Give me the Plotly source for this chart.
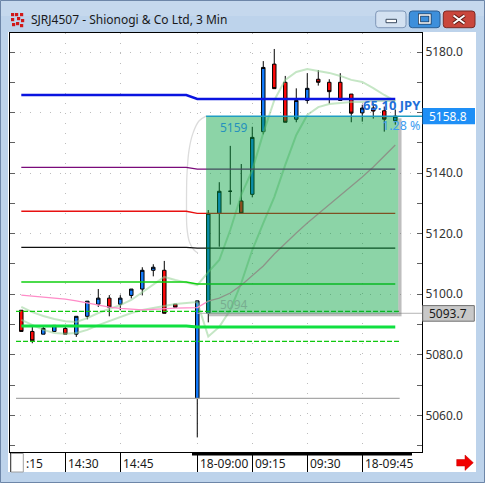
import plotly.graph_objects as go

# ---------------------------------------------------------------------------
# 3-minute bars of SJRJ4507 (Shionogi & Co Ltd).  X is a bar-slot index:
# slot 0 = 14:18 of the previous session, slot 16 = 09:00 on the 18th,
# slot 15 is the overnight break.
# ---------------------------------------------------------------------------
slots = [0, 1, 2, 3, 4, 5, 6, 7, 8, 9, 10, 11, 12, 13, 14,
         16, 17, 18, 19, 20, 21, 22, 23, 24, 25, 26, 27, 28, 29, 30, 31, 32, 33, 34]
opens = [5094.7, 5087.7, 5086.8, 5087.7, 5088.7, 5086.8, 5092.7, 5096.7, 5098.7, 5096.7,
         5099.6, 5101.7, 5107.9, 5107.9, 5096.7,
         5065.6, 5093.7, 5126.7, 5134.0, 5130.8, 5133.0, 5153.7, 5176.0, 5170.0, 5157.8,
         5164.0, 5171.0, 5170.0, 5170.0, 5166.1, 5159.9, 5161.5, 5160.6, 5157.3]
highs = [5094.7, 5089.8, 5089.7, 5089.7, 5089.7, 5092.7, 5097.7, 5101.7, 5099.7, 5099.7,
         5101.7, 5108.9, 5109.9, 5111.0, 5096.7,
         5097.8, 5127.8, 5137.0, 5149.0, 5143.0, 5155.3, 5177.0, 5181.0, 5172.1, 5168.0,
         5173.0, 5174.0, 5171.0, 5173.0, 5166.1, 5162.6, 5163.0, 5162.0, 5161.0]
lows = [5087.7, 5083.8, 5086.8, 5087.7, 5086.8, 5085.9, 5091.7, 5095.8, 5092.7, 5094.7,
        5098.6, 5099.6, 5105.9, 5093.7, 5095.7,
        5052.7, 5090.7, 5115.7, 5129.6, 5126.7, 5132.0, 5152.8, 5167.9, 5156.8, 5156.8,
        5163.0, 5168.9, 5163.0, 5164.0, 5156.8, 5157.0, 5158.0, 5153.7, 5156.0]
closes = [5087.7, 5084.6, 5088.7, 5089.7, 5086.8, 5092.7, 5097.7, 5098.7, 5095.7, 5098.7,
          5101.7, 5107.9, 5108.9, 5093.7, 5095.7,
          5097.8, 5126.7, 5134.0, 5134.0, 5126.7, 5151.8, 5174.9, 5167.9, 5156.8, 5164.0,
          5168.0, 5170.0, 5166.9, 5164.0, 5159.8, 5161.5, 5160.5, 5157.8, 5158.8]

# Envelope bands (light green) and slow average (pink), one value per bar
band_upper = [5095.8, 5094.1, 5092.8, 5091.8, 5091.1, 5090.8, 5092.1, 5093.8, 5095.1, 5096.4,
              5098.1, 5100.7, 5103.4, 5105.7, 5104.7,
              5103.0, 5107.3, 5111.3, 5121.2, 5132.8, 5141.0, 5153.2, 5164.1, 5170.8, 5173.4,
              5174.4, 5173.7, 5173.1, 5172.1, 5170.8, 5170.1, 5168.1, 5165.8, 5163.8]
band_lower = [5091.5, 5089.8, 5088.2, 5087.2, 5086.9, 5087.2, 5088.2, 5089.8, 5091.1, 5092.5,
              5093.8, 5094.8, 5095.4, 5096.1, 5096.8,
              5097.4, 5086.0, 5089.2, 5094.8, 5103.7, 5114.6, 5123.5, 5132.1, 5142.7, 5152.6,
              5159.2, 5161.8, 5162.8, 5163.2, 5163.5, 5163.5, 5163.8, 5163.8, 5163.8]
slow_avg = [5099.7, 5099.4, 5099.1, 5098.8, 5098.4, 5097.8, 5097.1, 5096.4, 5095.7, 5095.3,
            5095.0, 5094.8, 5095.0, 5095.3, 5095.4,
            5095.6, 5097.7, 5098.7, 5100.4, 5103.0, 5106.0, 5109.3, 5113.3, 5116.9, 5120.2,
            5123.5, 5126.5, 5129.5, 5132.4, 5135.4, 5138.7, 5142.0, 5145.6, 5149.3]

# Faint arc around the session open
arc_slots = [16.84, 16.15, 15.61, 15.25, 15.06, 15.02, 15.06, 15.29, 15.70, 16.06]
arc_prices = [5158.9, 5157.2, 5153.2, 5147.6, 5139.4, 5129.5, 5121.9, 5117.2, 5114.6, 5113.6]

# Horizontal study levels: value for the previous session and for today
level_slots = [0, 15, 16, 34]
levels = [
    # (prev, today, colour, width)
    (5165.8, 5164.5, "#0a14e0", 2.4),
    (5141.9, 5141.3, "#7a0a7a", 1.3),
    (5127.4, 5126.7, "#e81010", 1.3),
    (5115.5, 5115.2, "#101010", 1.3),
    (5104.0, 5103.4, "#10d010", 1.5),
    (5089.5, 5089.2, "#10e040", 3.0),
]
dashed_levels = [5094.3, 5084.4]
low_level = 5065.6
dashed_span = [-0.48, 34.4]

# Trade box: entry to last price
entry_price = 5093.7
last_price = 5158.8
box_slots = [16.8, 34.27]
change_jpy = 65.10
change_pct = 1.28

# Time axis
tick_slots = [4, 9, 16, 21, 26, 31]
tick_texts = ["14:30", "14:45", "18-09:00", "09:15", "09:30", "18-09:45"]
price_ticks = [5060, 5080, 5100, 5120, 5140, 5160, 5180]
# the 5160 label sits under the last-price box
price_labels = ["" if v == 5160 else f"{v:.1f}" for v in price_ticks]

X_RANGE = [-1.027, 36.43]
Y_RANGE = [5047.88, 5186.28]

W, H = 485, 483
PL, PR, PT, PB = 10, 422, 33, 452


def fx(px):
    return (px - PL) / (PR - PL)


def fy(py):
    return (PB - py) / (PB - PT)


FONT = "Noto Sans, DejaVu Sans, sans-serif"
FRAME = "#bdd3eb"

fig = go.Figure()

# bands and averages
fig.add_trace(go.Scatter(x=slots, y=band_upper, mode="lines",
                         line=dict(color="rgba(150,210,150,0.55)", width=2), hoverinfo="skip"))
fig.add_trace(go.Scatter(x=slots, y=band_lower, mode="lines",
                         line=dict(color="rgba(150,210,150,0.55)", width=2), hoverinfo="skip"))
fig.add_trace(go.Scatter(x=slots, y=slow_avg, mode="lines",
                         line=dict(color="#ff8cc8", width=1.3), hoverinfo="skip"))
fig.add_trace(go.Scatter(x=arc_slots, y=arc_prices, mode="lines",
                         line=dict(color="#dcdcdc", width=1.3, shape="spline"), hoverinfo="skip"))

# study levels
for prev, today, col, wd in levels:
    fig.add_trace(go.Scatter(x=level_slots, y=[prev, prev, today, today], mode="lines",
                             line=dict(color=col, width=wd), hoverinfo="skip"))
for v in dashed_levels:
    fig.add_trace(go.Scatter(x=dashed_span, y=[v, v], mode="lines",
                             line=dict(color="#10c810", width=1.3, dash="5px,2px"), hoverinfo="skip"))
fig.add_trace(go.Scatter(x=dashed_span, y=[low_level, low_level], mode="lines",
                         line=dict(color="#a8a8a8", width=1.2), hoverinfo="skip"))
fig.add_trace(go.Scatter(x=[16, X_RANGE[1]], y=[entry_price, entry_price], mode="lines",
                         line=dict(color="#b4b4b4", width=1), hoverinfo="skip"))

# candles
fig.add_trace(go.Candlestick(
    x=slots, open=opens, high=highs, low=lows, close=closes,
    increasing=dict(line=dict(color="#000000", width=1), fillcolor="#137cff"),
    decreasing=dict(line=dict(color="#000000", width=1), fillcolor="#ff0a0a"),
    whiskerwidth=0, hoverinfo="skip",
))

shapes = []
# window client area
shapes.append(dict(type="rect", xref="paper", yref="paper", layer="below",
                   x0=fx(8), x1=fx(476), y0=fy(472), y1=fy(32),
                   fillcolor="white", line=dict(width=0)))
# outer window outline
shapes.append(dict(type="rect", xref="paper", yref="paper", layer="below",
                   x0=fx(0.5), x1=fx(484.5), y0=fy(482.5), y1=fy(0.5),
                   fillcolor="rgba(0,0,0,0)", line=dict(color="#6d86a8", width=1)))
# title bar sheen
shapes.append(dict(type="rect", xref="paper", yref="paper", layer="below",
                   x0=fx(1), x1=fx(484), y0=fy(16), y1=fy(1),
                   fillcolor="rgba(255,255,255,0.12)", line=dict(width=0)))

# trade box shadow + translucent fill
shapes.append(dict(type="rect", xref="x", yref="y", layer="above",
                   x0=box_slots[1], x1=box_slots[1] + 0.3, y0=entry_price - 1.0, y1=last_price - 0.7,
                   fillcolor="rgba(110,110,110,0.45)", line=dict(width=0)))
shapes.append(dict(type="rect", xref="x", yref="y", layer="above",
                   x0=box_slots[0] + 0.25, x1=box_slots[1], y0=entry_price - 1.0, y1=entry_price,
                   fillcolor="rgba(110,110,110,0.45)", line=dict(width=0)))
shapes.append(dict(type="rect", xref="x", yref="y", layer="above",
                   x0=box_slots[0], x1=box_slots[1], y0=entry_price, y1=last_price,
                   fillcolor="rgba(0,160,60,0.45)", line=dict(width=0)))
# last price line
shapes.append(dict(type="line", xref="x", yref="y", layer="above",
                   x0=box_slots[0], x1=X_RANGE[1], y0=last_price, y1=last_price,
                   line=dict(color="#1f9dc2", width=1.5)))

# current-session bar under the time axis
shapes.append(dict(type="rect", xref="paper", yref="paper", layer="above",
                   x0=fx(192), x1=fx(412), y0=fy(455.5), y1=fy(452),
                   fillcolor="black", line=dict(width=0)))
# small corner button
shapes.append(dict(type="rect", xref="paper", yref="paper", layer="above",
                   x0=fx(11), x1=fx(23.3), y0=fy(472), y1=fy(453.5),
                   fillcolor="white", line=dict(color="#a0a0a0", width=1)))
# scroll arrow
arrow = [(456.7, 459.5), (465, 459.5), (465, 455), (473.3, 462.7), (465, 470.4), (465, 466), (456.7, 466)]
shapes.append(dict(type="path", xref="paper", yref="paper", layer="above",
                   path="M " + " L ".join(f"{fx(a):.5f},{fy(b):.5f}" for a, b in arrow) + " Z",
                   fillcolor="#f20000", line=dict(color="#c00000", width=0.5)))

# price boxes on the axis
shapes.append(dict(type="rect", xref="paper", yref="paper", layer="above",
                   x0=fx(422.5), x1=fx(475), y0=fy(124.3), y1=fy(108.1),
                   fillcolor="#1e8ff6", line=dict(width=0)))
shapes.append(dict(type="rect", xref="paper", yref="paper", layer="above",
                   x0=fx(422.7), x1=fx(474.3), y0=fy(321.2), y1=fy(305.6),
                   fillcolor="#c8c8c8", line=dict(color="#707070", width=1)))


def rrect(x0, y0, x1, y1, r=3):
    p = (f"M {fx(x0 + r)},{fy(y0)} L {fx(x1 - r)},{fy(y0)} Q {fx(x1)},{fy(y0)} {fx(x1)},{fy(y0 + r)} "
         f"L {fx(x1)},{fy(y1 - r)} Q {fx(x1)},{fy(y1)} {fx(x1 - r)},{fy(y1)} "
         f"L {fx(x0 + r)},{fy(y1)} Q {fx(x0)},{fy(y1)} {fx(x0)},{fy(y1 - r)} "
         f"L {fx(x0)},{fy(y0 + r)} Q {fx(x0)},{fy(y0)} {fx(x0 + r)},{fy(y0)} Z")
    return p


# caption buttons
shapes.append(dict(type="path", xref="paper", yref="paper", layer="above",
                   path=rrect(375.7, 11, 406, 27.7), fillcolor="#d3e1f1",
                   line=dict(color="#7f97b8", width=1)))
shapes.append(dict(type="path", xref="paper", yref="paper", layer="above",
                   path=rrect(409.3, 11, 440, 27.7), fillcolor="#3d8fdb",
                   line=dict(color="#2c5f94", width=1)))
shapes.append(dict(type="path", xref="paper", yref="paper", layer="above",
                   path=rrect(443.3, 11, 475, 27.7), fillcolor="#c9473c",
                   line=dict(color="#7a2a24", width=1)))
# minimize glyph
shapes.append(dict(type="rect", xref="paper", yref="paper", layer="above",
                   x0=fx(386), x1=fx(396.5), y0=fy(22.7), y1=fy(19.3),
                   fillcolor="white", line=dict(color="#3a4a60", width=1)))
# maximize glyph
shapes.append(dict(type="rect", xref="paper", yref="paper", layer="above",
                   x0=fx(419.5), x1=fx(430), y0=fy(23), y1=fy(15),
                   fillcolor="rgba(0,0,0,0)", line=dict(color="#1d3552", width=3)))
shapes.append(dict(type="rect", xref="paper", yref="paper", layer="above",
                   x0=fx(419.5), x1=fx(430), y0=fy(23), y1=fy(15),
                   fillcolor="rgba(0,0,0,0)", line=dict(color="white", width=1.4)))
# close glyph
for (a, b, c, d) in [(453.5, 15.5, 464.5, 23.5), (453.5, 23.5, 464.5, 15.5)]:
    shapes.append(dict(type="line", xref="paper", yref="paper", layer="above",
                       x0=fx(a), y0=fy(b), x1=fx(c), y1=fy(d),
                       line=dict(color="#5a1a14", width=4)))
for (a, b, c, d) in [(453.5, 15.5, 464.5, 23.5), (453.5, 23.5, 464.5, 15.5)]:
    shapes.append(dict(type="line", xref="paper", yref="paper", layer="above",
                       x0=fx(a), y0=fy(b), x1=fx(c), y1=fy(d),
                       line=dict(color="white", width=2)))
# window icon
for (a, b) in [(11, 13), (15, 13), (20, 13), (11, 18), (17, 17), (21, 19), (12, 23), (16, 22), (20, 24)]:
    shapes.append(dict(type="rect", xref="paper", yref="paper", layer="above",
                       x0=fx(a), x1=fx(a + 3.2), y0=fy(b + 3.2), y1=fy(b),
                       fillcolor="#d01818", line=dict(width=0)))

annotations = []
annotations.append(dict(xref="paper", yref="paper", x=fx(29), y=fy(20), xanchor="left", yanchor="middle",
                        text="SJRJ4507 - Shionogi & Co Ltd, 3 Min", showarrow=False,
                        font=dict(family=FONT, size=12, color="#1a1a1a")))
# time labels, drawn to the right of each tick
for s, t in zip(tick_slots, tick_texts):
    annotations.append(dict(xref="x", yref="paper", x=s, y=fy(463), xanchor="left", yanchor="middle",
                            xshift=1, text=t, showarrow=False,
                            font=dict(family=FONT, size=12, color="#1a1a1a")))
annotations.append(dict(xref="paper", yref="paper", x=fx(24), y=fy(463), xanchor="left", yanchor="middle",
                        text=":15", showarrow=False, font=dict(family=FONT, size=12, color="#1a1a1a")))
# axis price boxes
annotations.append(dict(xref="paper", yref="paper", x=fx(427), y=fy(116.2), xanchor="left", yanchor="middle",
                        text=f"{last_price:.1f}", showarrow=False,
                        font=dict(family=FONT, size=12, color="white")))
annotations.append(dict(xref="paper", yref="paper", x=fx(427), y=fy(313.4), xanchor="left", yanchor="middle",
                        text=f"{entry_price:.1f}", showarrow=False,
                        font=dict(family=FONT, size=12, color="#1a1a1a")))
# trade box labels
annotations.append(dict(xref="x", yref="y", x=17.9, y=last_price, xanchor="left", yanchor="top",
                        yshift=-1, text=f"{last_price:.0f}", showarrow=False,
                        font=dict(family=FONT, size=12, color="#2591bd")))
annotations.append(dict(xref="x", yref="y", x=17.9, y=entry_price, xanchor="left", yanchor="bottom",
                        yshift=-2, text=f"{entry_price:.0f}", showarrow=False,
                        font=dict(family=FONT, size=12, color="#78ad90")))
annotations.append(dict(xref="paper", yref="y", x=fx(422.5), y=last_price, xanchor="right", yanchor="bottom",
                        yshift=0, text=f"<b>{change_jpy:.2f} JPY</b>", showarrow=False,
                        font=dict(family=FONT, size=13, color="#1f6fd8")))
annotations.append(dict(xref="paper", yref="y", x=fx(421.5), y=last_price, xanchor="right", yanchor="top",
                        yshift=1, text=f"{change_pct:.2f} %", showarrow=False,
                        font=dict(family=FONT, size=12.5, color="#3c9df0")))

fig.update_layout(
    width=W, height=H,
    margin=dict(l=PL, r=W - PR, t=PT, b=H - PB),
    paper_bgcolor=FRAME, plot_bgcolor="white",
    showlegend=False, boxgap=0.55,
    shapes=shapes, annotations=annotations,
    xaxis=dict(range=X_RANGE, rangeslider=dict(visible=False), fixedrange=True,
               showline=True, linecolor="black", linewidth=1, mirror=True,
               ticks="outside", ticklen=19, tickcolor="black", tickwidth=1,
               tickvals=[-1] + tick_slots, showticklabels=False,
               showgrid=True, gridcolor="#bcbcbc", griddash="1px,9px", gridwidth=1,
               zeroline=False),
    yaxis=dict(range=Y_RANGE, side="right", fixedrange=True,
               showline=True, linecolor="black", linewidth=1, mirror="ticks",
               ticks="inside", ticklen=5, tickcolor="#606060",
               tickvals=price_ticks, ticktext=price_labels,
               minor=dict(dtick=10, tick0=5050, ticks="inside", ticklen=5, tickcolor="#606060", showgrid=False),
               tickfont=dict(family=FONT, size=12, color="#333333"),
               showgrid=True, gridcolor="#bcbcbc", griddash="1px,9px", gridwidth=1,
               zeroline=False),
)

fig.write_html("out.html")
